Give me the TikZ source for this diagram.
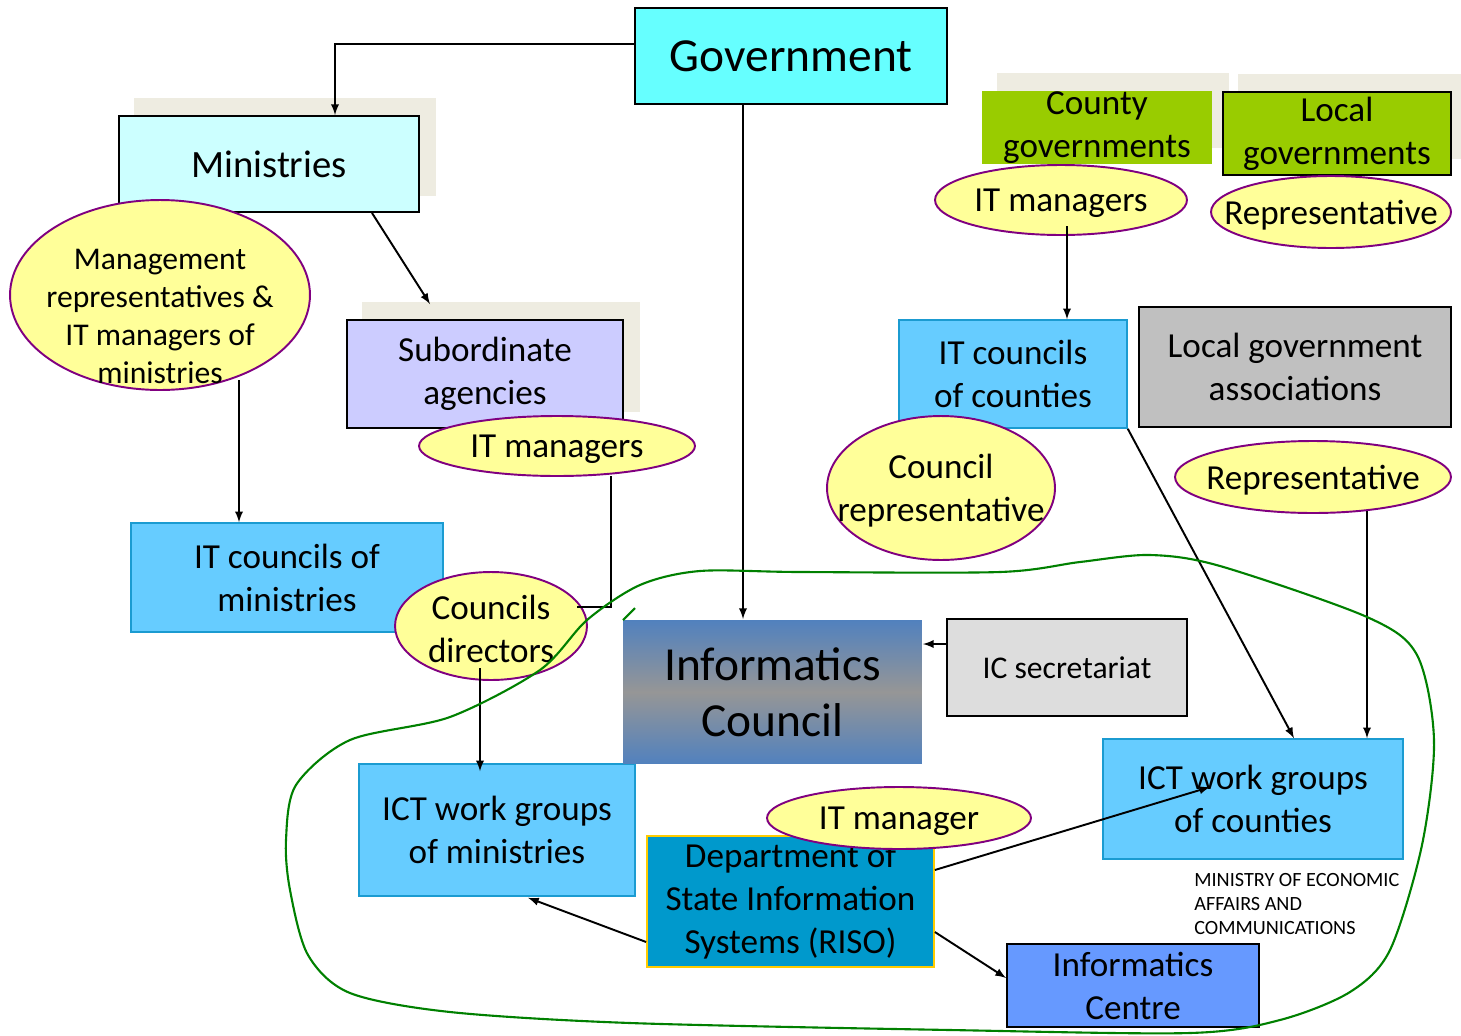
\documentclass[tikz,border=0pt]{standalone}
\usepackage{fontspec}
\setmainfont{Carlito}
\usepackage{tikz}
\usetikzlibrary{shapes,arrows,positioning,fit,backgrounds}
\definecolor{govcyan}{HTML}{66FFFF}
\definecolor{mincyan}{HTML}{CCFFFF}
\definecolor{sublilac}{HTML}{CCCCFF}
\definecolor{itblue}{HTML}{66CCFF}
\definecolor{itedge}{HTML}{1B9BD1}
\definecolor{icblue}{HTML}{5181BE}
\definecolor{icgray}{HTML}{969696}
\definecolor{secgray}{HTML}{DDDDDD}
\definecolor{lgagray}{HTML}{C0C0C0}
\definecolor{govgreen}{HTML}{99CC00}
\definecolor{backbeige}{HTML}{EEECE1}
\definecolor{risoblue}{HTML}{0099CC}
\definecolor{risogold}{HTML}{FFCC00}
\definecolor{centreblue}{HTML}{6699FF}
\definecolor{noteyellow}{HTML}{FFFF99}
\definecolor{notepurple}{HTML}{800080}
\definecolor{loopgreen}{HTML}{008000}
\tikzstyle{box} = [rectangle, draw=black, line width=1.1pt, inner sep=0pt, align=center, font=\fontsize{20}{24.5}\selectfont]
\tikzstyle{itbox} = [box, draw=itedge, line width=0.9pt, fill=itblue]
\tikzstyle{note} = [ellipse, draw=notepurple, line width=1.1pt, fill=noteyellow, inner sep=0pt]
\tikzstyle{notetext} = [align=center, inner sep=0pt, yshift=-1.7pt, font=\fontsize{20}{24.5}\selectfont]
\tikzstyle{backdrop} = [fill=backbeige]
\tikzstyle{tedge} = [draw, line width=1.1pt, >=latex, ->]
\tikzstyle{wgloop} = [draw=loopgreen, line width=1.2pt]

\begin{document}
\begin{tikzpicture}[x=0.02cm, y=-0.02cm]
\useasboundingbox (0,0) rectangle (1461,1035);

% state side =============================
\node[box, fill=govcyan, minimum width=6.24cm, minimum height=1.92cm, font=\fontsize{27}{32}\selectfont] (gov) at (791,56) {Government};
\node[box, fill=mincyan, minimum width=6cm, minimum height=1.92cm, font=\fontsize{22}{26}\selectfont] (min) at (269,164) {Ministries};
\node[box, fill=sublilac, minimum width=5.52cm, minimum height=2.16cm] (sub) at (485,374) {Subordinate\\agencies};
\node[itbox, minimum width=6.24cm, minimum height=2.18cm] (it-min) at (287,577.5) {IT councils of\\ministries};
\node[itbox, minimum width=5.52cm, minimum height=2.64cm] (ict-min) at (497,830) {ICT work groups\\of ministries};

% council
\node[box, draw=none, top color=icblue, bottom color=icblue, middle color=icgray, minimum width=5.98cm, minimum height=2.88cm, font=\fontsize{27}{32}\selectfont] (ic) at (772.5,692) {Informatics\\Council};
\node[box, fill=secgray, minimum width=4.8cm, minimum height=1.94cm, font=\fontsize{18}{22}\selectfont] (ic-sec) at (1067,667.5) {IC secretariat};
\node[box, fill=risoblue, draw=risogold, line width=1pt, minimum width=5.74cm, minimum height=2.62cm] (riso) at (790.5,901.5) {Department of\\State Information\\Systems (RISO)};
\node[box, fill=centreblue, minimum width=5.04cm, minimum height=1.66cm] (ic-centre) at (1133,985.5) {Informatics\\Centre};

% local side =============================
\node[box, draw=none, fill=govgreen, minimum width=4.6cm, minimum height=1.46cm] (county) at (1097,127.5) {County\\governments};
\node[box, fill=govgreen, minimum width=4.56cm, minimum height=1.66cm] (local) at (1337,133.5) {Local\\governments};
\node[itbox, minimum width=4.56cm, minimum height=2.16cm] (it-cnt) at (1013,374) {IT councils\\of counties};
\node[box, fill=lgagray, minimum width=6.24cm, minimum height=2.4cm] (lga) at (1295,367) {Local government\\associations};
\node[itbox, minimum width=6cm, minimum height=2.4cm] (ict-cnt) at (1253,799) {ICT work groups\\of counties};

% representatives
\node[note, minimum width=6cm, minimum height=3.8cm, label={[notetext, yshift=-10.3pt, font=\fontsize{18}{21.6}\selectfont]center:{Management\\representatives \&\\IT managers of\\ministries}}] (mgmt) at (160,295) {};
\node[note, minimum width=5.52cm, minimum height=1.2cm, label={[notetext]center:{IT managers}}] (sub-it) at (557,446) {};
\node[note, minimum width=3.84cm, minimum height=2.16cm, label={[notetext]center:{Councils\\directors}}] (c-dir) at (491,626) {};
\node[note, minimum width=5.04cm, minimum height=1.4cm, label={[notetext]center:{IT managers}}] (cnt-it) at (1061,200) {};
\node[note, minimum width=4.8cm, minimum height=1.44cm, label={[notetext]center:{Representative}}] (local-rep) at (1331,212) {};
\node[note, minimum width=4.56cm, minimum height=2.88cm, label={[notetext]center:{Council\\representative}}] (c-rep) at (941,488) {};
\node[note, minimum width=5.52cm, minimum height=1.44cm, label={[notetext]center:{Representative}}] (lga-rep) at (1313,477) {};
\node[note, minimum width=5.28cm, minimum height=1.24cm, label={[notetext]center:{IT manager}}] (riso-mgr) at (899,818) {};

\node[align=left, anchor=north west, inner sep=0pt, font=\fontsize{11.5}{13.7}\selectfont] (moeac) at (1194,873) {MINISTRY OF ECONOMIC\\AFFAIRS AND\\COMMUNICATIONS};

% shadows
\begin{scope}[on background layer]
\foreach \b in {min, sub, county, local}
  \fill[backdrop] ([shift={(16,-17)}]\b.south west) rectangle ([shift={(16,-17)}]\b.north east);
\end{scope}

% edges
\path[tedge] ([shift={(0,-12)}]gov.west) -| ([shift={(66,0)}]min.north);
\path[tedge] ([shift={(103,0)}]min.south) -- ([shift={(-55,-15)}]sub.north);
\path[tedge] ([shift={(79,85)}]mgmt.center) -- ([shift={(-48,0)}]it-min.north);
\draw[line width=1.1pt] ([shift={(54,30)}]sub-it.center) |- ([shift={(86,-19)}]c-dir.center);
\path[tedge] ([shift={(-11,42)}]c-dir.center) -- ([shift={(-17,8)}]ict-min.north);
\path[tedge] ([shift={(-48,0)}]gov.south) -- ([shift={(-29.5,0)}]ic.north);
\path[tedge] ([shift={(0,-23.5)}]ic-sec.west) -- ([shift={(0,-48)}]ic.east);
\path[tedge] ([shift={(6,26)}]cnt-it.center) -- ([shift={(54,0)}]it-cnt.north);
\path[tedge] (it-cnt.south east) -- ([shift={(41,0)}]ict-cnt.north);
\path[tedge] ([shift={(54,34)}]lga-rep.center) -- ([shift={(114,0)}]ict-cnt.north);
\path[tedge] ([shift={(0,-31.5)}]riso.east) -- ([shift={(-43,-12)}]ict-cnt.center);
\path[tedge] ([shift={(0,40.5)}]riso.west) -- ([shift={(31,1)}]ict-min.south);
\path[tedge] ([shift={(0,30.5)}]riso.east) -- ([shift={(0,-7.5)}]ic-centre.west);

% ministry boundary
\draw[wgloop] plot[smooth cycle, tension=0.5] coordinates {(286,840) (296,785) (350,740) (450,717) (540,670) (587,620) (640,585) (700,571) (800,572) (1000,572) (1080,562) (1150,555) (1220,566) (1367,617) (1417,655) (1434,740) (1422,845) (1390,950) (1350,992) (1280,1020) (1190,1033) (950,1030) (630,1023) (450,1012) (350,993) (308,955) (290,890)};
\draw[wgloop] (623,620) -- (635,608);

\end{tikzpicture}
\end{document}
